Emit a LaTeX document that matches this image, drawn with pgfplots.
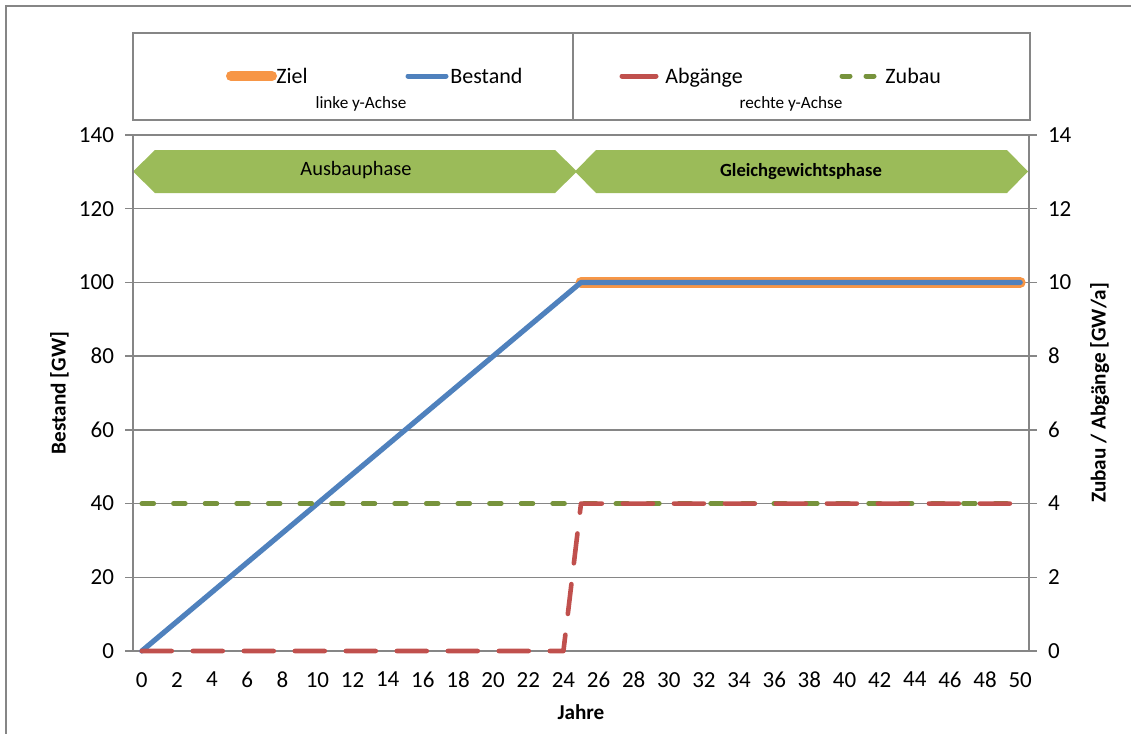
\documentclass[border=0pt]{standalone}
\usepackage{pgfplots}
\pgfplotsset{compat=1.18}
\usepackage{pgfplotstable}
\usepackage{fontspec}
\setmainfont{Carlito}

\definecolor{zielorange}{HTML}{F79646}
\definecolor{bestandblue}{HTML}{4F81BD}
\definecolor{abgangred}{HTML}{C0504D}
\definecolor{zubaugreen}{HTML}{77933C}
\definecolor{phasegreen}{HTML}{9BBB59}
\definecolor{axisgray}{HTML}{868686}

% stock (left axis, GW)
\pgfplotstableread{
x   y
25  100
50  100
}\zieltable
\pgfplotstableread{
x   y
0   0
25  100
50  100
}\bestandtable
% flows (right axis, GW/a)
\pgfplotstableread{
x   y
0   0
24  0
25  4
50  4
}\abgangtable
\pgfplotstableread{
x   y
0   4
50  4
}\zubautable

\pgfplotsset{
  common/.style={
    scale only axis,
    width=448pt, height=258pt,
    at={(66.5pt,-325.5pt)}, anchor=south west,
    xmin=-0.5, xmax=50.5,
    axis line style={axisgray, line width=0.9pt},
    tick style={axisgray, line width=0.7pt},
    tick align=outside,
    major tick length=4pt, minor tick length=4pt,
    ticklabel style={font=\fontsize{11.5}{13}\selectfont},
    /pgf/number format/assume math mode=true,
    clip=false,
  },
}

\begin{document}
\begin{tikzpicture}
% page extent and outer frame
\useasboundingbox (0pt,0pt) rectangle (565.5pt,-367pt);
\draw[axisgray, line width=0.8pt] (3pt,-367pt) -- (3pt,-3pt) -- (565.5pt,-3pt);

% legend
\begin{scope}[x=0.5pt, y=-0.5pt,
  entry/.style={anchor=west, inner sep=0pt, text height=1.45ex, text depth=0.35ex,
                font=\fontsize{11}{13}\selectfont}]
  \draw[axisgray, line width=0.7pt] (133,33) rectangle (1030,120);
  \draw[axisgray, line width=0.7pt] (573,33) -- (573,120);
  \draw[zielorange, line width=5pt, line cap=round] (231,76) -- (272,76);
  \node[entry] at (276,78) {Ziel};
  \draw[bestandblue, line width=2.5pt, line cap=round] (408,76) -- (446,76);
  \node[entry] at (450,78) {Bestand};
  \draw[abgangred, line width=2.5pt, line cap=round] (622,76) -- (656,76);
  \node[entry] at (665,78) {Abgänge};
  \draw[zubaugreen, line width=2.5pt, line cap=round, dash pattern=on 4pt off 8pt] (842,76) -- (882,76);
  \node[entry] at (885,78) {Zubau};
  \node[font=\fontsize{8.6}{10}\selectfont] at (361,104) {linke y-Achse};
  \node[font=\fontsize{8.6}{10}\selectfont] at (791,104) {rechte y-Achse};

  % phase arrows
  \fill[phasegreen] (133,171.5) -- (155,150) -- (555,150) -- (577,171.5) -- (555,193) -- (155,193) -- cycle;
  \fill[phasegreen] (575,171.5) -- (596,150) -- (1007,150) -- (1028,171.5) -- (1007,193) -- (596,193) -- cycle;
  \node[font=\fontsize{10.2}{12}\selectfont] at (356,170) {Ausbauphase};
  \node[font=\bfseries\fontsize{9.3}{11}\selectfont] at (801,172) {Gleichgewichtsphase};
\end{scope}

% left axis: stock
\begin{axis}[common,
  axis x line*=bottom, axis y line*=left,
  ymin=0, ymax=140, ytick={0,20,...,140},
  xtick={0,2,...,50},
  minor xtick={-0.5,0.5,...,50.5},
  x tick style={draw=none},
  minor x tick style={axisgray, line width=0.7pt},
  ymajorgrids, grid style={axisgray, line width=0.7pt},
  xlabel={\bfseries Jahre},
  ylabel={\bfseries Bestand [GW]},
  label style={font=\bfseries\fontsize{10.6}{12}\selectfont},
  xlabel style={at={(rel axis cs:0.5,-0.118)}, anchor=center},
  ylabel style={at={(rel axis cs:-0.082,0.5)}, anchor=center},
  xticklabel style={yshift=-3pt},
  yticklabel style={xshift=-2pt},
]
\addplot[zielorange, line width=5.5pt, line cap=round, line join=round] table[x=x,y=y] {\zieltable};
\addplot[bestandblue, line width=2.6pt, line cap=round, line join=round] table[x=x,y=y] {\bestandtable};
\draw[axisgray, line width=0.7pt] (rel axis cs:0,1) -- (rel axis cs:1,1);
\end{axis}

% right axis: additions and removals
\begin{axis}[common,
  axis x line=none, axis y line*=right,
  ymin=0, ymax=14, ytick={0,2,...,14},
  ylabel={\bfseries Zubau / Abgänge [GW/a]},
  label style={font=\bfseries\fontsize{10.6}{12}\selectfont},
  ylabel style={at={(rel axis cs:1.079,0.5)}, anchor=center, rotate=0},
  yticklabel style={xshift=2pt},
]
\addplot[zubaugreen, line width=2.3pt, line cap=round, dash pattern=on 6pt off 9.8pt] table[x=x,y=y] {\zubautable};
\addplot[abgangred, line width=2.3pt, line cap=round, line join=round, dash pattern=on 15pt off 10.5pt] table[x=x,y=y] {\abgangtable};
\end{axis}
\end{tikzpicture}
\end{document}
